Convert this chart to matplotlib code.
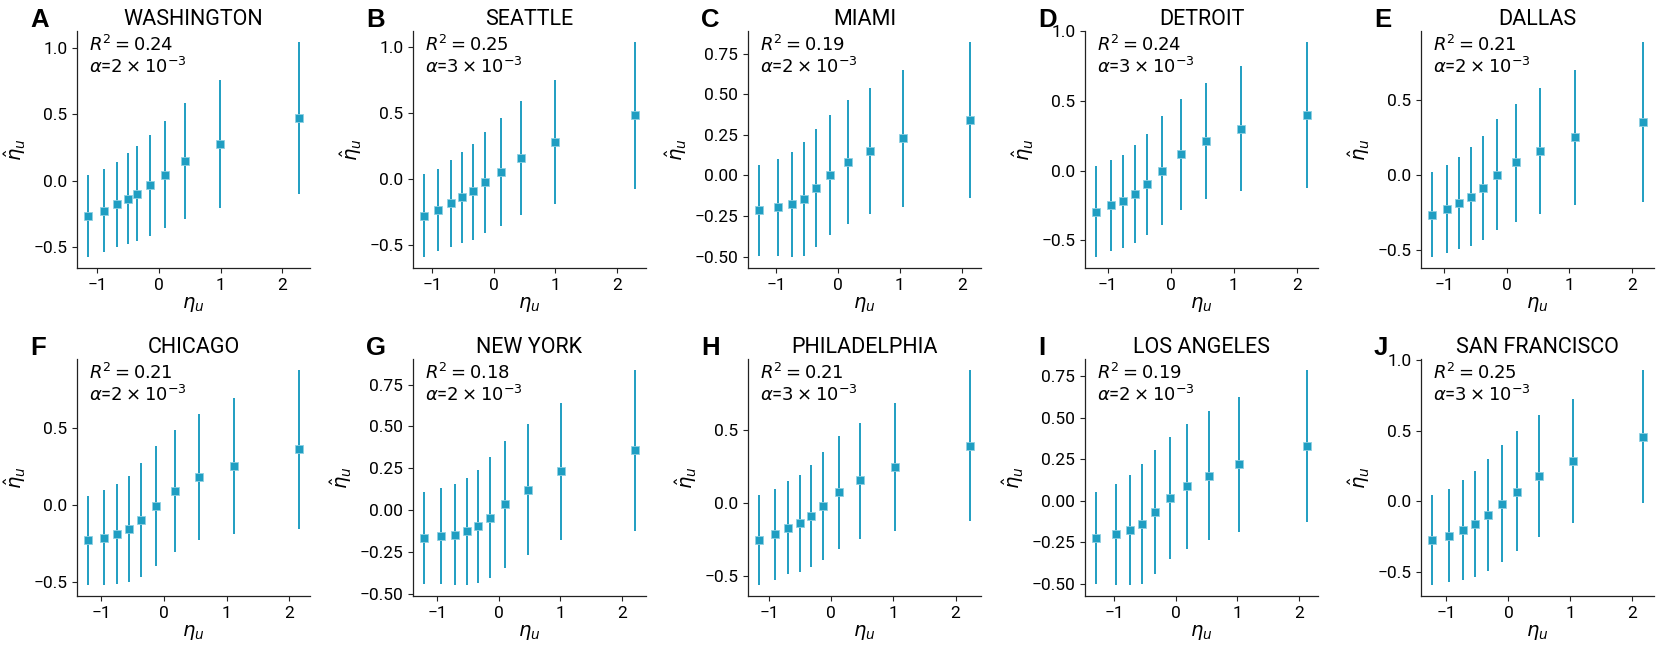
import matplotlib
matplotlib.use("Agg")
import matplotlib.pyplot as plt
import numpy as np

plt.rcParams['font.family'] = ['Roboto', 'DejaVu Sans']
plt.rcParams['mathtext.fontset'] = 'dejavusans'

# ---------------- data ----------------
cities = ["WASHINGTON", "SEATTLE", "MIAMI", "DETROIT", "DALLAS",
          "CHICAGO", "NEW YORK", "PHILADELPHIA", "LOS ANGELES", "SAN FRANCISCO"]
letters = ["A", "B", "C", "D", "E", "F", "G", "H", "I", "J"]
r2_values = ["0.24", "0.25", "0.19", "0.24", "0.21", "0.21", "0.18", "0.21", "0.19", "0.25"]
alpha_values = ["2", "3", "2", "3", "2", "2", "2", "3", "2", "3"]

washington_x = [-1.16, -0.90, -0.69, -0.51, -0.35, -0.15, 0.09, 0.42, 0.99, 2.28]
washington_y = [-0.268, -0.226, -0.178, -0.138, -0.100, -0.033, 0.043, 0.150, 0.276, 0.471]
washington_hi = [0.045, 0.088, 0.138, 0.206, 0.258, 0.343, 0.446, 0.586, 0.759, 1.045]
washington_lo = [-0.576, -0.539, -0.496, -0.476, -0.456, -0.414, -0.358, -0.288, -0.205, -0.100]

seattle_x = [-1.14, -0.90, -0.70, -0.51, -0.33, -0.14, 0.11, 0.45, 1.00, 2.30]
seattle_y = [-0.281, -0.235, -0.187, -0.142, -0.096, -0.028, 0.053, 0.154, 0.278, 0.486]
seattle_hi = [0.033, 0.076, 0.139, 0.203, 0.266, 0.354, 0.461, 0.590, 0.747, 1.038]
seattle_lo = [-0.595, -0.549, -0.519, -0.486, -0.463, -0.413, -0.359, -0.278, -0.190, -0.076]

miami_x = [-1.28, -0.96, -0.74, -0.54, -0.35, -0.12, 0.16, 0.52, 1.05, 2.14]
miami_y = [-0.214, -0.195, -0.179, -0.144, -0.076, 0.000, 0.080, 0.152, 0.228, 0.344]
miami_hi = [0.062, 0.099, 0.144, 0.206, 0.288, 0.370, 0.463, 0.541, 0.652, 0.823]
miami_lo = [-0.494, -0.494, -0.504, -0.494, -0.442, -0.370, -0.298, -0.237, -0.195, -0.138]

detroit_x = [-1.19, -0.95, -0.75, -0.56, -0.38, -0.14, 0.17, 0.56, 1.11, 2.17]
detroit_y = [-0.294, -0.249, -0.218, -0.170, -0.098, -0.002, 0.117, 0.213, 0.299, 0.402]
detroit_hi = [0.033, 0.079, 0.110, 0.182, 0.266, 0.390, 0.514, 0.629, 0.749, 0.923]
detroit_lo = [-0.620, -0.577, -0.553, -0.517, -0.459, -0.392, -0.285, -0.206, -0.148, -0.122]

dallas_x = [-1.20, -0.96, -0.755, -0.57, -0.38, -0.15, 0.15, 0.53, 1.085, 2.18]
dallas_y = [-0.263, -0.225, -0.187, -0.147, -0.085, 0.004, 0.085, 0.163, 0.254, 0.356]
dallas_hi = [0.020, 0.069, 0.120, 0.187, 0.265, 0.372, 0.477, 0.584, 0.704, 0.891]
dallas_lo = [-0.548, -0.519, -0.494, -0.474, -0.432, -0.365, -0.310, -0.258, -0.196, -0.178]

chicago_x = [-1.22, -0.96, -0.745, -0.56, -0.36, -0.13, 0.17, 0.56, 1.11, 2.16]
chicago_y = [-0.227, -0.210, -0.188, -0.153, -0.097, -0.002, 0.093, 0.181, 0.255, 0.363]
chicago_hi = [0.058, 0.097, 0.136, 0.188, 0.274, 0.382, 0.486, 0.590, 0.698, 0.879]
chicago_lo = [-0.518, -0.518, -0.512, -0.497, -0.464, -0.391, -0.302, -0.227, -0.184, -0.156]

newyork_x = [-1.22, -0.935, -0.71, -0.52, -0.33, -0.14, 0.11, 0.47, 1.01, 2.22]
newyork_y = [-0.167, -0.155, -0.147, -0.127, -0.096, -0.046, 0.034, 0.122, 0.233, 0.357]
newyork_hi = [0.108, 0.133, 0.153, 0.193, 0.241, 0.317, 0.410, 0.516, 0.639, 0.839]
newyork_lo = [-0.440, -0.444, -0.450, -0.450, -0.434, -0.406, -0.347, -0.271, -0.177, -0.125]

philadelphia_x = [-1.17, -0.90, -0.69, -0.51, -0.33, -0.13, 0.12, 0.47, 1.03, 2.24]
philadelphia_y = [-0.256, -0.215, -0.169, -0.137, -0.089, -0.021, 0.073, 0.156, 0.249, 0.394]
philadelphia_hi = [0.053, 0.098, 0.151, 0.195, 0.263, 0.350, 0.460, 0.549, 0.689, 0.915]
philadelphia_lo = [-0.565, -0.531, -0.485, -0.474, -0.439, -0.389, -0.313, -0.245, -0.192, -0.126]

losangeles_x = [-1.30, -0.975, -0.74, -0.54, -0.33, -0.09, 0.18, 0.54, 1.035, 2.14]
losangeles_y = [-0.222, -0.200, -0.174, -0.138, -0.070, 0.018, 0.086, 0.150, 0.218, 0.329]
losangeles_hi = [0.052, 0.102, 0.156, 0.222, 0.303, 0.383, 0.463, 0.539, 0.623, 0.788]
losangeles_lo = [-0.499, -0.509, -0.509, -0.499, -0.443, -0.349, -0.289, -0.234, -0.186, -0.128]

sanfrancisco_x = [-1.24, -0.96, -0.73, -0.535, -0.335, -0.11, 0.146, 0.50, 1.04, 2.18]
sanfrancisco_y = [-0.277, -0.244, -0.206, -0.161, -0.097, -0.017, 0.069, 0.180, 0.286, 0.459]
sanfrancisco_hi = [0.047, 0.085, 0.149, 0.213, 0.303, 0.397, 0.496, 0.615, 0.726, 0.934]
sanfrancisco_lo = [-0.596, -0.572, -0.556, -0.537, -0.494, -0.430, -0.352, -0.253, -0.151, -0.012]

panels = [
    (washington_x, washington_y, washington_lo, washington_hi),
    (seattle_x, seattle_y, seattle_lo, seattle_hi),
    (miami_x, miami_y, miami_lo, miami_hi),
    (detroit_x, detroit_y, detroit_lo, detroit_hi),
    (dallas_x, dallas_y, dallas_lo, dallas_hi),
    (chicago_x, chicago_y, chicago_lo, chicago_hi),
    (newyork_x, newyork_y, newyork_lo, newyork_hi),
    (philadelphia_x, philadelphia_y, philadelphia_lo, philadelphia_hi),
    (losangeles_x, losangeles_y, losangeles_lo, losangeles_hi),
    (sanfrancisco_x, sanfrancisco_y, sanfrancisco_lo, sanfrancisco_hi),
]

# ---------------- layout ----------------
W, H = 1661, 649
fig = plt.figure(figsize=(W / 100, H / 100), dpi=100)

col_left_px = [77, 413, 748, 1085, 1421]
row_top_px = [31, 359]
ax_w_px, ax_h_px = 233, 237

color = "#1f9ec2"

for i, (x, y, lo, hi) in enumerate(panels):
    r, c = divmod(i, 5)
    left = col_left_px[c] / W
    bottom = 1 - (row_top_px[r] + ax_h_px) / H
    ax = fig.add_axes([left, bottom, ax_w_px / W, ax_h_px / H])
    x = np.asarray(x); y = np.asarray(y)
    lo = np.asarray(lo); hi = np.asarray(hi)
    ax.errorbar(x, y, yerr=[y - lo, hi - y], fmt='s', color=color,
                ecolor=color, elinewidth=1.4, markersize=5.5,
                mec='#8fd0e2', mew=0.6, capsize=0, alpha=1.0)
    for s in ['top', 'right']:
        ax.spines[s].set_visible(False)
    for s in ['left', 'bottom']:
        ax.spines[s].set_linewidth(0.9)
        ax.spines[s].set_color('#222222')
    ax.tick_params(labelsize=12.5, length=3.5, width=0.8, color='#222222')
    ax.set_xticks([-1, 0, 1, 2])
    ax.set_xlabel(r'$\eta_u$', fontsize=14, labelpad=2)
    ax.set_ylabel(r'$\hat{\eta}_u$', fontsize=14, labelpad=4)
    ax.set_title(cities[i], fontsize=15.5, pad=4)
    ax.text(0.05, 0.985, r'$R^2=%s$' % r2_values[i] + '\n' +
            r'$\alpha$=$%s\times10^{-3}$' % alpha_values[i],
            transform=ax.transAxes, ha='left', va='top', fontsize=13,
            linespacing=1.15)
    fig.text((col_left_px[c] - 47) / W, 1 - (row_top_px[r] - 4) / H,
             letters[i], fontsize=18.5, fontweight='bold',
             family=['Liberation Sans', 'DejaVu Sans'],
             ha='left', va='baseline')

fig.savefig("out.png", dpi=100)
